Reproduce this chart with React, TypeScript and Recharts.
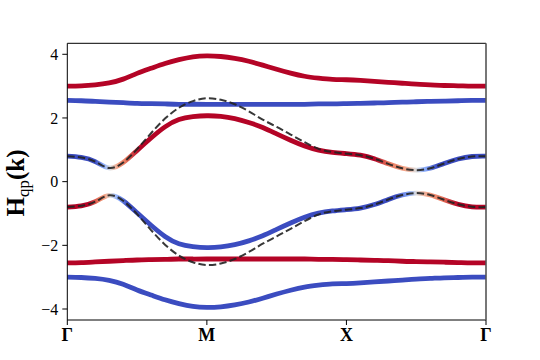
import { Label, Line, LineChart, XAxis, YAxis } from "recharts";

// path position along Γ → M → X → Γ (one unit per segment)
const kPath = [
  0, 0.1, 0.2, 0.3, 0.4, 0.5, 0.6, 0.7, 0.8, 0.9, 1.0, 1.1, 1.2, 1.3, 1.4, 1.5,
  1.6, 1.7, 1.8, 1.9, 2.0, 2.1, 2.2, 2.3, 2.4, 2.5, 2.6, 2.7, 2.8, 2.9, 3.0,
];
const kLabels = ["Γ", "M", "X", "Γ"];
const yTicks = [-4, -2, 0, 2, 4];

// quasiparticle bands, top to bottom
const bandTop = [
  3.0, 3.01, 3.04, 3.1, 3.22, 3.4, 3.56, 3.71, 3.83, 3.92, 3.95, 3.93, 3.87, 3.78, 3.66, 3.53,
  3.41, 3.31, 3.25, 3.21, 3.2, 3.18, 3.15, 3.12, 3.09, 3.06, 3.04, 3.02, 3.01, 3.0, 3.0,
];
const bandFlatUp = [
  2.55, 2.54, 2.52, 2.5, 2.48, 2.46, 2.45, 2.44, 2.43, 2.43, 2.43, 2.43, 2.43, 2.43, 2.43, 2.43,
  2.43, 2.43, 2.44, 2.44, 2.45, 2.46, 2.47, 2.48, 2.5, 2.51, 2.52, 2.53, 2.54, 2.55, 2.55,
];
const bandMidUp = [
  0.8, 0.76, 0.63, 0.43, 0.6, 0.98, 1.37, 1.72, 1.95, 2.04, 2.07, 2.05, 1.98, 1.86, 1.7, 1.5,
  1.3, 1.12, 0.99, 0.92, 0.88, 0.83, 0.72, 0.56, 0.42, 0.36, 0.42, 0.57, 0.71, 0.79, 0.8,
];
const bandMidDown = [
  -0.8, -0.76, -0.63, -0.43, -0.6, -0.98, -1.37, -1.72, -1.95, -2.04, -2.07, -2.05, -1.98, -1.86, -1.7, -1.5,
  -1.3, -1.12, -0.99, -0.92, -0.88, -0.83, -0.72, -0.56, -0.42, -0.36, -0.42, -0.57, -0.71, -0.79, -0.8,
];
const bandFlatDown = [
  -2.55, -2.54, -2.52, -2.5, -2.48, -2.46, -2.45, -2.44, -2.43, -2.43, -2.43, -2.43, -2.43, -2.43, -2.43, -2.43,
  -2.43, -2.43, -2.44, -2.44, -2.45, -2.46, -2.47, -2.48, -2.5, -2.51, -2.52, -2.53, -2.54, -2.55, -2.55,
];
const bandBottom = [
  -3.0, -3.01, -3.04, -3.1, -3.22, -3.4, -3.56, -3.71, -3.83, -3.92, -3.95, -3.93, -3.87, -3.78, -3.66, -3.53,
  -3.41, -3.31, -3.25, -3.21, -3.2, -3.18, -3.15, -3.12, -3.09, -3.06, -3.04, -3.02, -3.01, -3.0, -3.0,
];

// normal-state dispersion (dashed)
const normalUp = [
  0.8, 0.76, 0.63, 0.43, 0.6, 1.02, 1.52, 1.98, 2.32, 2.53, 2.62, 2.57, 2.43, 2.21, 1.95, 1.72,
  1.48, 1.24, 1.03, 0.93, 0.88, 0.83, 0.72, 0.56, 0.42, 0.36, 0.42, 0.57, 0.71, 0.79, 0.8,
];
const normalDown = [
  -0.8, -0.76, -0.63, -0.43, -0.6, -1.02, -1.52, -1.98, -2.32, -2.53, -2.62, -2.57, -2.43, -2.21, -1.95, -1.72,
  -1.48, -1.24, -1.03, -0.93, -0.88, -0.83, -0.72, -0.56, -0.42, -0.36, -0.42, -0.57, -0.71, -0.79, -0.8,
];

const data = kPath.map((k, i) => ({
  k,
  top: bandTop[i],
  flatUp: bandFlatUp[i],
  midUp: bandMidUp[i],
  midDown: bandMidDown[i],
  flatDown: bandFlatDown[i],
  bottom: bandBottom[i],
  nUp: normalUp[i],
  nDown: normalDown[i],
}));

const BLUE = "#3b4cc0";
const RED = "#b40426";
const FONT = "'Liberation Serif', 'Times New Roman', serif";

// coolwarm colour along the path, stops given in path units (0..3)
const midUpStops: [number, string][] = [
  [0, BLUE], [0.2, BLUE], [0.26, "#8caffe"], [0.31, "#dddcdc"], [0.36, "#f4a487"],
  [0.42, "#e8765c"], [0.52, RED], [2.2, RED], [2.3, "#e8765c"], [2.42, "#f4a487"],
  [2.5, "#dddcdc"], [2.56, "#8caffe"], [2.65, BLUE], [3, BLUE],
];
const midDownStops: [number, string][] = [
  [0, RED], [0.15, RED], [0.22, "#e8765c"], [0.27, "#f4a487"], [0.31, "#dddcdc"],
  [0.36, "#8caffe"], [0.43, BLUE], [2.35, BLUE], [2.45, "#8caffe"], [2.5, "#dddcdc"],
  [2.58, "#f4a487"], [2.68, "#e8765c"], [2.8, RED], [3, RED],
];

function Grad({ id, stops }: { id: string; stops: [number, string][] }) {
  return (
    <linearGradient id={id} x1="0" y1="0" x2="1" y2="0">
      {stops.map(([t, c], i) => (
        <stop key={i} offset={`${(t / 3) * 100}%`} stopColor={c} />
      ))}
    </linearGradient>
  );
}

function YLabel() {
  const x = 23.5;
  const y = 183;
  return (
    <text
      x={x}
      y={y}
      transform={`rotate(-90, ${x}, ${y})`}
      textAnchor="middle"
      fontFamily={FONT}
      fontSize={25}
      fill="#000"
    >
      <tspan fontWeight="bold">H</tspan>
      <tspan fontSize={17} dy={5}>qp</tspan>
      <tspan fontWeight="bold" dy={-5}>(k)</tspan>
    </text>
  );
}

const fmtY = (v: number) => (v < 0 ? `−${Math.abs(v)}` : `${v}`);

export default function App() {
  const band = { type: "natural" as const, dot: false, isAnimationActive: false, strokeWidth: 4.8 };
  const dashed = {
    type: "natural" as const,
    dot: false,
    isAnimationActive: false,
    stroke: "#222",
    strokeOpacity: 0.9,
    strokeWidth: 2,
    strokeDasharray: "7.4 3.2",
  };
  return (
    <div style={{ position: "absolute", left: 0, top: 0, background: "#fff", fontFamily: FONT }}>
      <LineChart
        width={540}
        height={360}
        data={data}
        margin={{ top: 42.3, right: 53, left: 7.3, bottom: 10 }}
      >
        <defs>
          <Grad id="gMidUp" stops={midUpStops} />
          <Grad id="gMidDown" stops={midDownStops} />
        </defs>
        <XAxis
          dataKey="k"
          type="number"
          domain={[0, 3]}
          ticks={[0, 1, 2, 3]}
          tickFormatter={(v: number) => kLabels[Math.round(v)]}
          tick={{ fontSize: 18, fontWeight: "bold", fill: "#000", fontFamily: FONT }}
          tickSize={5}
          tickMargin={3}
          height={30}
          axisLine={{ stroke: "#000" }}
          tickLine={{ stroke: "#000" }}
        />
        <XAxis
          xAxisId="top"
          orientation="top"
          dataKey="k"
          type="number"
          domain={[0, 3]}
          ticks={[0, 3]}
          height={1}
          tick={false}
          tickLine={false}
          axisLine={{ stroke: "#000" }}
        />
        <YAxis
          type="number"
          domain={[-4.345, 4.345]}
          ticks={yTicks}
          tickFormatter={fmtY}
          tick={{ fontSize: 16, fill: "#000", fontFamily: FONT }}
          tickSize={5}
          tickMargin={4}
          width={60}
          axisLine={{ stroke: "#000" }}
          tickLine={{ stroke: "#000" }}
          allowDataOverflow
        >
          <Label content={() => <YLabel />} />
        </YAxis>
        <YAxis
          yAxisId="right"
          orientation="right"
          type="number"
          domain={[-4.345, 4.345]}
          ticks={[-4, 4]}
          width={1}
          tick={false}
          tickLine={false}
          axisLine={{ stroke: "#555", strokeWidth: 1.6 }}
        />
        <Line dataKey="top" stroke={RED} {...band} />
        <Line dataKey="flatUp" stroke={BLUE} {...band} />
        <Line dataKey="midUp" stroke="url(#gMidUp)" {...band} />
        <Line dataKey="midDown" stroke="url(#gMidDown)" {...band} />
        <Line dataKey="flatDown" stroke={RED} {...band} />
        <Line dataKey="bottom" stroke={BLUE} {...band} />
        <Line dataKey="nUp" {...dashed} />
        <Line dataKey="nDown" {...dashed} />
      </LineChart>
    </div>
  );
}
